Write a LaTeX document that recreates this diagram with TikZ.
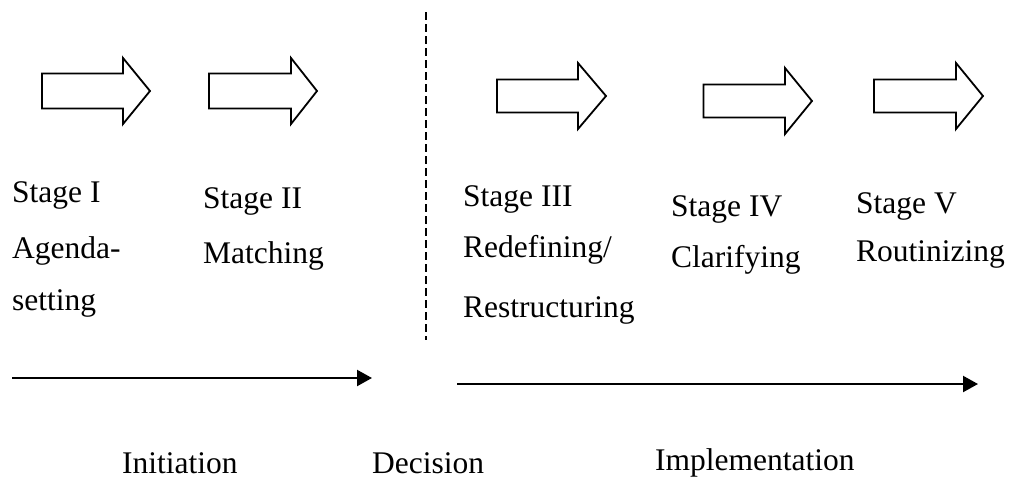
\documentclass[tikz,border=0pt]{standalone}
\usepackage{fontspec}
\setmainfont{Liberation Serif}
\usetikzlibrary{arrows.meta}
\begin{document}
\begin{tikzpicture}[x=1pt,y=-1pt,
  blockarrow/.style={draw=black,line width=1.8pt,line join=miter,fill=white},
  label/.style={anchor=base west,inner sep=0pt,font=\fontsize{31.5}{36}\selectfont},
  phase/.style={draw=black,line width=2.2pt,-{Triangle[length=15pt,width=16pt]}},
  divider/.style={draw=black,line width=2pt,dash pattern=on 8pt off 4pt}]
\useasboundingbox (0,0) rectangle (1011,479);

% block arrow: left edge, head base, tip, centre line, shaft half height, head half height
\newcommand\stagearrow[6]{%
  \draw[blockarrow] (#1,#4-#5) -- (#2,#4-#5) -- (#2,#4-#6) -- (#3,#4)
    -- (#2,#4+#6) -- (#2,#4+#5) -- (#1,#4+#5) -- cycle;}

\stagearrow{42}{123}{150}{91}{17.5}{33}
\stagearrow{209}{291}{317}{91}{17.5}{33}
\stagearrow{497}{578}{606}{96}{16.5}{33}
\stagearrow{703.5}{785}{812}{101}{16.5}{33}
\stagearrow{874}{956}{983}{96}{16.5}{33}

% dashed divider between initiation and implementation
\coordinate (divtop) at (425.7,12);
\coordinate (divbot) at (425.7,340);
\draw[divider] (divtop) -- (divbot);

% stage labels
\node[label] (s1a) at (12,202) {Stage I};
\node[label] (s1b) at (12,258) {Agenda-};
\node[label] (s1c) at (12,310) {setting};
\node[label] (s2a) at (203,208) {Stage II};
\node[label] (s2b) at (203,263) {Matching};
\node[label] (s3a) at (463,206.5) {Stage III};
\node[label] (s3b) at (463,257) {Redefining/};
\node[label] (s3c) at (463,317) {Restructuring};
\node[label] (s4a) at (671,216.5) {Stage IV};
\node[label] (s4b) at (671,267) {Clarifying};
\node[label] (s5a) at (856,213) {Stage V};
\node[label] (s5b) at (856,261) {Routinizing};

% phase arrows
\coordinate (p1s) at (12,378);
\coordinate (p1e) at (372,378);
\coordinate (p2s) at (457,384);
\coordinate (p2e) at (978,384);
\draw[phase] (p1s) -- (p1e);
\draw[phase] (p2s) -- (p2e);

% phase labels
\node[label] (init) at (122,473) {Initiation};
\node[label] (dec) at (372,473) {Decision};
\node[label] (impl) at (655,470) {Implementation};
\end{tikzpicture}
\end{document}
